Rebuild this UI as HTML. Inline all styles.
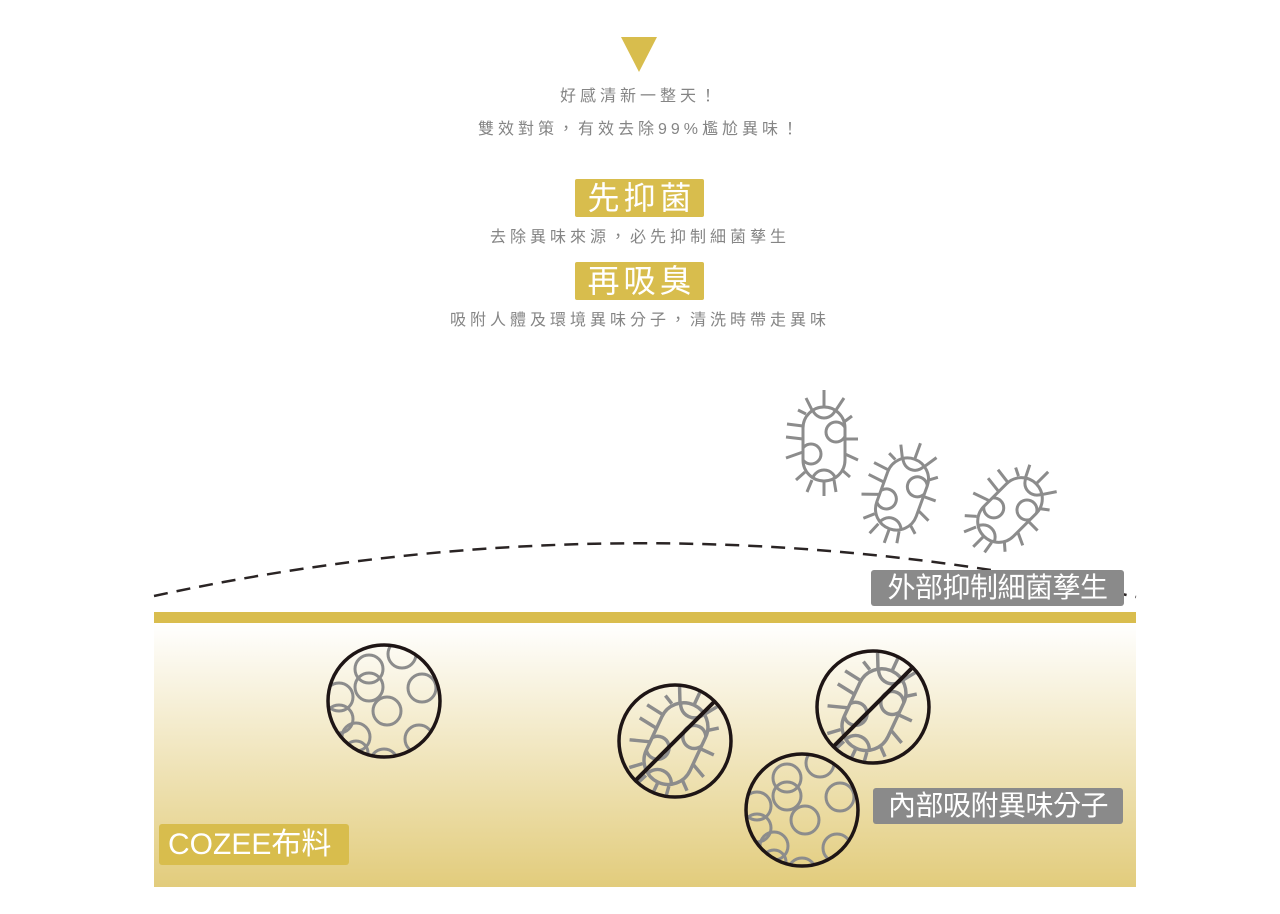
<!DOCTYPE html>
<html><head><meta charset="utf-8"><style>
body{margin:0;width:1280px;height:914px;background:#fff;overflow:hidden;position:relative;font-family:"Liberation Sans","Noto Sans CJK TC",sans-serif}
.t{position:absolute;left:0;width:1280px;text-align:center;color:#858585;font-size:16px;letter-spacing:4px;line-height:20px}
.gb{position:absolute;background:#d8bd4d;color:#fff;text-align:center;border-radius:2px}
.lb{position:absolute;background:#8a8a8a;color:#fff;font-size:28px;line-height:36px;text-align:center;border-radius:3px;letter-spacing:-0.5px;font-weight:normal}
</style></head><body>
<svg width="1280" height="914" style="position:absolute;left:0;top:0">
<defs>
<linearGradient id="g" x1="0" y1="0" x2="0" y2="1"><stop offset="0" stop-color="#fff"/><stop offset="1" stop-color="#e2cc7c"/></linearGradient>
<clipPath id="cap"><rect x="-21" y="-37" width="42" height="74" rx="21"/></clipPath>
<g id="bac" stroke="#8c8c8c" stroke-width="3" fill="none">
<rect x="-21" y="-37" width="42" height="74" rx="21"/>
<g clip-path="url(#cap)"><circle cx="12" cy="-12" r="10"/><circle cx="-13" cy="10" r="10"/><circle cx="0" cy="-38" r="12"/><circle cx="0" cy="38" r="12"/></g>
<path d="M0-37V-54M-12-34L-18-46M12-34L20-46M20-22L28-28M21-5L34-5M21 10L34 16M18 26L26 33M10 36L12 48M0 37V52M-12 36L-17 48M-19 28L-28 36M-21 8L-38 14M-21-5L-38-7M-21-18L-37-20M-18-30L-26-34"/>
</g>
<clipPath id="c1"><circle cx="0" cy="0" r="56"/></clipPath>
<g id="mol"><g clip-path="url(#c1)" stroke="#8c8c8c" stroke-width="3" fill="none">
<circle cx="-15" cy="-32" r="14"/><circle cx="-15" cy="-14" r="14"/><circle cx="18" cy="-47" r="14"/><circle cx="38" cy="-13" r="14"/><circle cx="3" cy="10" r="14"/><circle cx="-45" cy="-4" r="14"/><circle cx="-45" cy="18" r="14"/><circle cx="-28" cy="36" r="14"/><circle cx="35" cy="38" r="14"/><circle cx="0" cy="62" r="14"/><circle cx="-28" cy="52" r="12"/></g>
<circle r="56" fill="none" stroke="#1e1515" stroke-width="3.5"/></g>
<g id="ban"><g clip-path="url(#c1)"><use href="#bac" transform="rotate(25) translate(2,2) scale(1.15)"/></g>
<circle r="56" fill="none" stroke="#1e1515" stroke-width="3.5"/><line x1="-40" y1="40" x2="40" y2="-40" stroke="#1e1515" stroke-width="4"/></g>
</defs>
<polygon points="621,37 657,37 639,72" fill="#d8bd4d"/>
<path d="M154 596 Q645 490 1136 597" fill="none" stroke="#2a2424" stroke-width="2.5" stroke-dasharray="14 9"/>
<use href="#bac" transform="translate(824,444)"/>
<use href="#bac" transform="translate(902,494) rotate(20)"/>
<use href="#bac" transform="translate(1010,510) rotate(45)"/>
<rect x="154" y="623" width="982" height="264" fill="url(#g)"/>
<rect x="154" y="612" width="982" height="11" fill="#d9bd4e"/>
<use href="#mol" transform="translate(384,701)"/>
<use href="#mol" transform="translate(802,810)"/>
<use href="#ban" transform="translate(675,741)"/>
<use href="#ban" transform="translate(873,707)"/>
</svg>
<div class="t" style="top:87px">好感清新一整天！</div>
<div class="t" style="top:120px">雙效對策，有效去除99%尷尬異味！</div>
<div class="gb" style="left:575px;top:179px;width:129px;height:38px;font-size:32px;line-height:38px;letter-spacing:4px;text-indent:4px">先抑菌</div>
<div class="t" style="top:228px">去除異味來源，必先抑制細菌孳生</div>
<div class="gb" style="left:575px;top:262px;width:129px;height:38px;font-size:32px;line-height:38px;letter-spacing:4px;text-indent:4px">再吸臭</div>
<div class="t" style="top:311px">吸附人體及環境異味分子，清洗時帶走異味</div>
<div class="lb" style="left:871px;top:570px;width:253px">外部抑制細菌孳生</div>
<div class="lb" style="left:873px;top:788px;width:250px">內部吸附異味分子</div>
<div class="gb" style="left:159px;top:824px;width:190px;height:41px;font-size:30px;line-height:41px;border-radius:3px;text-align:left;text-indent:9px">COZEE布料</div>
</body></html>
